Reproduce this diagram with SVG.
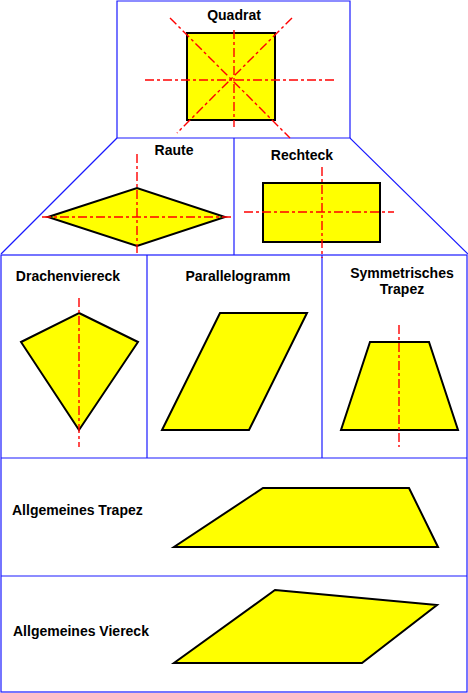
<svg xmlns="http://www.w3.org/2000/svg" width="468" height="693" viewBox="0 0 468 693">
<style>
.frame{fill:none;stroke:#1a1aff;stroke-width:1.2}
.shape{fill:#ffff00;stroke:#000;stroke-width:2;stroke-linejoin:miter}
.axis{fill:none;stroke:#ff0000;stroke-width:1.4;stroke-dasharray:9,3,3,3}
.lbl{font-family:"Liberation Sans",Arial,sans-serif;font-weight:bold;font-size:14px;fill:#000}
.c{text-anchor:middle}
</style>
<rect width="468" height="693" fill="#fff"/>
<g id="frames">
<polyline class="frame" points="117,138 117,1 350,1 350,138"/>
<polyline class="frame" points="117,138 350,138 468,254"/>
<line class="frame" x1="117" y1="138" x2="1" y2="254"/>
<line class="frame" x1="234" y1="138" x2="234" y2="255"/>
<rect class="frame" x="1" y="255" width="466" height="437"/>
<line class="frame" x1="147" y1="255" x2="147" y2="458"/>
<line class="frame" x1="322" y1="255" x2="322" y2="458"/>
<line class="frame" x1="1" y1="458" x2="467" y2="458"/>
<line class="frame" x1="1" y1="576" x2="467" y2="576"/>
</g>
<g id="quadrat">
<rect class="shape" x="187" y="33" width="88" height="87"/>
<line class="axis" x1="234" y1="30" x2="234" y2="127"/>
<line class="axis" x1="145" y1="80" x2="335" y2="80"/>
<line class="axis" x1="170" y1="18" x2="290" y2="138"/>
<line class="axis" x1="292" y1="18" x2="177" y2="133"/>
<text class="lbl c" x="234" y="20">Quadrat</text>
</g>
<g id="raute">
<polygon class="shape" points="48,217 137,188 225,217 137,246"/>
<line class="axis" x1="137" y1="154" x2="137" y2="255"/>
<line class="axis" x1="42" y1="217" x2="232" y2="217"/>
<text class="lbl c" x="174" y="155">Raute</text>
</g>
<g id="rechteck">
<rect class="shape" x="263" y="183" width="117" height="59"/>
<line class="axis" x1="322" y1="167" x2="322" y2="258"/>
<line class="axis" x1="244" y1="212" x2="394" y2="212"/>
<text class="lbl c" x="302" y="160">Rechteck</text>
</g>
<g id="drachenviereck">
<polygon class="shape" points="79,313 138,342 79,430 21,342"/>
<line class="axis" x1="79" y1="298" x2="79" y2="447"/>
<text class="lbl c" x="68" y="281">Drachenviereck</text>
</g>
<g id="parallelogramm">
<polygon class="shape" points="220,313 307,313 249,430 162,430"/>
<text class="lbl c" x="238" y="281">Parallelogramm</text>
</g>
<g id="symmetrisches-trapez">
<polygon class="shape" points="370,342 429,342 458,430 341,430"/>
<line class="axis" x1="399" y1="325" x2="399" y2="447"/>
<text class="lbl c" x="402" y="278">Symmetrisches</text>
<text class="lbl c" x="402" y="294">Trapez</text>
</g>
<g id="allgemeines-trapez">
<polygon class="shape" points="263,488 409,488 438,547 174,547"/>
<text class="lbl" x="12" y="515">Allgemeines Trapez</text>
</g>
<g id="allgemeines-viereck">
<polygon class="shape" points="275,590 437,605 362,663 174,663"/>
<text class="lbl" x="13" y="636">Allgemeines Viereck</text>
</g>
</svg>
